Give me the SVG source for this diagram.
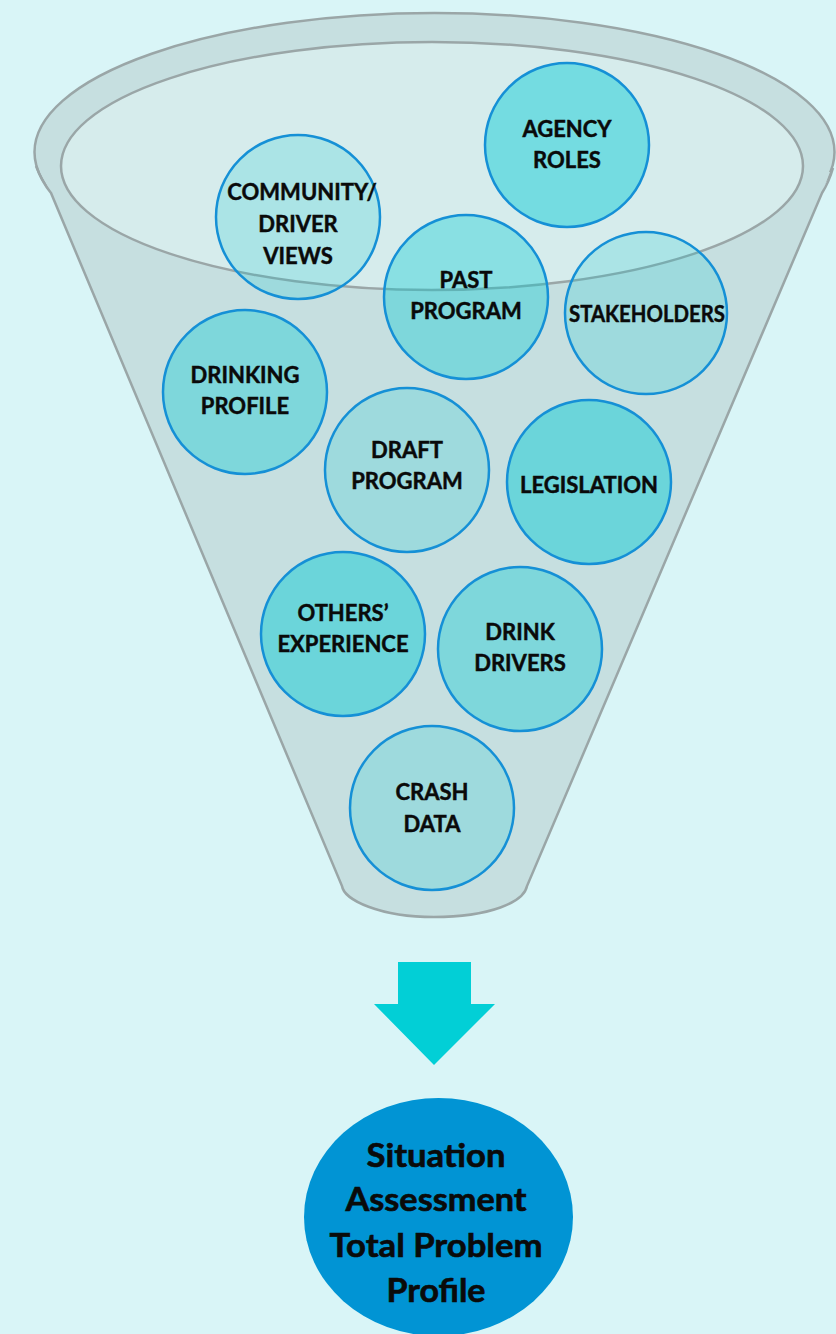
<svg xmlns="http://www.w3.org/2000/svg" width="836" height="1334" viewBox="0 0 836 1334">
  <style>
    .rim { fill: #c6dfe0; stroke: #9aa6a7; stroke-width: 2.5; }
    .body { fill: #c6dfe0; stroke: none; }
    .edge { fill: none; stroke: #9aa6a7; stroke-width: 2.5; }
    .mouth { fill: #d6ecec; stroke: #9aa6a7; stroke-width: 2.5; }
    .bubble { fill: #00c9d3; stroke: #1590d6; stroke-width: 2.5; stroke-opacity: 1; }
    .light { fill-opacity: 0.2; }
    .mid { fill-opacity: 0.36; }
    .deep { fill-opacity: 0.46; }
    .lbl { font-family: Lato, "Open Sans", "Liberation Sans", sans-serif; font-weight: 700; font-size: 22px; fill: #0a0a0a; stroke: #0a0a0a; stroke-width: 0.45; text-anchor: middle; }
    .big { font-family: Lato, "Open Sans", "Liberation Sans", sans-serif; font-weight: 700; font-size: 32px; fill: #0a0a0a; stroke: #0a0a0a; stroke-width: 0.6; text-anchor: middle; }
  </style>

  <rect width="836" height="1334" fill="#d9f5f7"/>

  <!-- funnel -->
  <g id="funnel">
    <ellipse class="rim" cx="434.5" cy="152" rx="400" ry="139"/>
    <path class="body" d="M 40,172 L 51,193 L 342,886 C 344,900 380,917 434,917 C 490,917 524,902 527,886 L 822,193 L 830,172 Z"/>
    <path class="edge" d="M 36,166 Q 42,182 51,193 L 342,886 C 344,900 380,917 434,917 C 490,917 524,902 527,886 L 822,193 Q 829,182 833,168"/>
    <ellipse class="mouth" cx="432" cy="166" rx="371" ry="124"/>
  </g>

  <!-- bubbles -->
  <g id="agency-roles">
    <circle class="bubble deep" cx="567" cy="145" r="82"/>
    <text class="lbl" x="567" y="137">AGENCY</text>
    <text class="lbl" x="567" y="168">ROLES</text>
  </g>
  <g id="community-driver-views">
    <circle class="bubble light" cx="298" cy="217" r="82"/>
    <text class="lbl" x="302" y="200">COMMUNITY/</text>
    <text class="lbl" x="298" y="232">DRIVER</text>
    <text class="lbl" x="298" y="264">VIEWS</text>
  </g>
  <g id="past-program">
    <circle class="bubble mid" cx="466" cy="297" r="82"/>
    <text class="lbl" x="466" y="288">PAST</text>
    <text class="lbl" x="466" y="319">PROGRAM</text>
  </g>
  <g id="stakeholders">
    <circle class="bubble light" cx="646" cy="313" r="81"/>
    <text class="lbl" x="647" y="322" textLength="156" lengthAdjust="spacingAndGlyphs">STAKEHOLDERS</text>
  </g>
  <g id="drinking-profile">
    <circle class="bubble mid" cx="245" cy="392" r="82"/>
    <text class="lbl" x="245" y="383">DRINKING</text>
    <text class="lbl" x="245" y="414">PROFILE</text>
  </g>
  <g id="draft-program">
    <circle class="bubble light" cx="407" cy="470" r="82"/>
    <text class="lbl" x="407" y="458">DRAFT</text>
    <text class="lbl" x="407" y="489">PROGRAM</text>
  </g>
  <g id="legislation">
    <circle class="bubble deep" cx="589" cy="482" r="82"/>
    <text class="lbl" x="589" y="493">LEGISLATION</text>
  </g>
  <g id="others-experience">
    <circle class="bubble deep" cx="343" cy="634" r="82"/>
    <text class="lbl" x="343" y="621">OTHERS’</text>
    <text class="lbl" x="343" y="652">EXPERIENCE</text>
  </g>
  <g id="drink-drivers">
    <circle class="bubble mid" cx="520" cy="649" r="82"/>
    <text class="lbl" x="520" y="640">DRINK</text>
    <text class="lbl" x="520" y="671">DRIVERS</text>
  </g>
  <g id="crash-data">
    <circle class="bubble light" cx="432" cy="808" r="82"/>
    <text class="lbl" x="432" y="800">CRASH</text>
    <text class="lbl" x="432" y="832">DATA</text>
  </g>

  <!-- flow arrow -->
  <g id="connectors">
    <path d="M 398,962 L 471,962 L 471,1004 L 495,1004 L 434,1065 L 374,1004 L 398,1004 Z" fill="#02cfd6"/>
  </g>

  <!-- result -->
  <g id="situation-assessment">
    <ellipse cx="438.5" cy="1217" rx="134.5" ry="119" fill="#0194d4"/>
    <text class="big" x="436" y="1167" textLength="139" lengthAdjust="spacingAndGlyphs">Situation</text>
    <text class="big" x="436" y="1211" textLength="181" lengthAdjust="spacingAndGlyphs">Assessment</text>
    <text class="big" x="436" y="1257" textLength="213" lengthAdjust="spacingAndGlyphs">Total Problem</text>
    <text class="big" x="436" y="1302" textLength="99" lengthAdjust="spacingAndGlyphs">Profile</text>
  </g>
</svg>
